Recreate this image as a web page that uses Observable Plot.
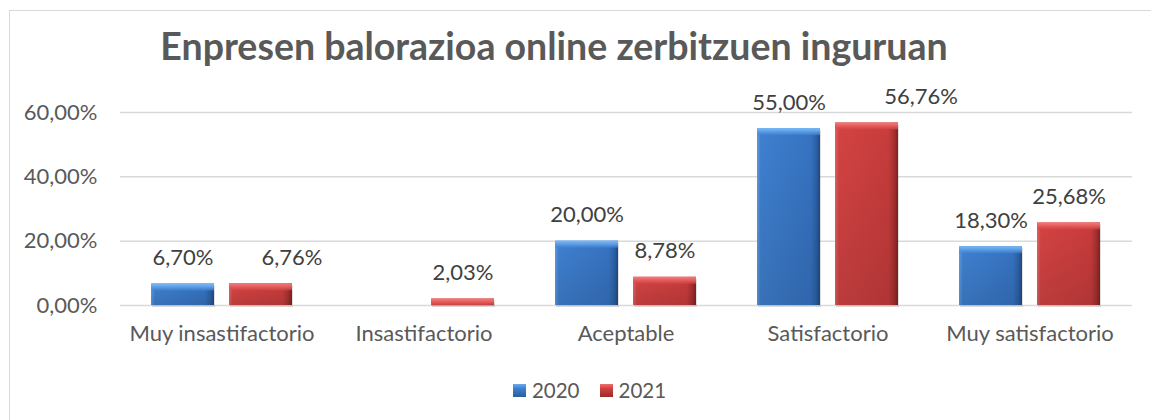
<!DOCTYPE html>
<html>
<head>
<meta charset="utf-8">
<script src="https://cdn.jsdelivr.net/npm/d3@7"></script>
<script src="https://cdn.jsdelivr.net/npm/@observablehq/plot@0.6"></script>
<style>
  body { margin: 0; background: #fff; font-family: Lato, "Open Sans", sans-serif; }
  #wrap { position: relative; width: 1151px; height: 420px; overflow: hidden; }
  #frame { position: absolute; left: 9px; top: 10px; width: 1300px; height: 600px; border: 1px solid #d9d9d9; box-sizing: border-box; pointer-events: none; }
  #title { height: 70px; width: 1108px; text-align: center; font-weight: 700; font-size: 37.5px; color: #595959; padding-top: 26px; box-sizing: border-box; line-height: 40px; white-space: nowrap; }
  #chart svg { display: block; }
  #legend { height: 60px; display: flex; justify-content: center; align-items: center; box-sizing: border-box; margin-left: 28px; font-size: 20.5px; color: #595959; }
  .item { display: flex; align-items: center; margin: 0 10px; }
  .sw { width: 13px; height: 13px; margin-right: 6px; }
</style>
</head>
<body>
<div id="wrap">
  <div id="frame"></div>
  <div id="title">Enpresen balorazioa online zerbitzuen inguruan</div>
  <div id="chart"></div>
  <div id="legend"></div>
</div>
<script>
const categories = ["Muy insastifactorio", "Insastifactorio", "Aceptable", "Satisfactorio", "Muy satisfactorio"];
const years = ["2020", "2021"];
const values2020 = [6.70, 0, 20.00, 55.00, 18.30];
const values2021 = [6.76, 2.03, 8.78, 56.76, 25.68];
const yTicks = [0, 20, 40, 60];

const d2020 = categories.map((c, i) => ({category: c, year: "2020", value: values2020[i]}));
const d2021 = categories.map((c, i) => ({category: c, year: "2021", value: values2021[i]}));

const fmt = v => v.toFixed(2).replace(".", ",") + "%";
const FONT = "Lato, 'Open Sans', sans-serif";

const shift = 39, inset = 78;

function barMarks(data, key, side) {
  const o = side === "left" ? {insetRight: inset} : {insetLeft: inset};
  const shown = data.filter(d => d.value > 0);
  return [
    Plot.barY(shown, {x: "category", y: "value", fill: "#000", fillOpacity: 0.12, dx: 1, dy: 2, ...o}),
    Plot.barY(shown, {x: "category", y: "value", fill: `url(#${key}Body)`, ...o}),
    Plot.barY(shown, {x: "category", y: "value", fill: "url(#shade)", ...o}),
    Plot.barY(shown, {x: "category", y1: "value", y2: "value", insetBottom: -7, fill: `url(#${key}Top)`, ...o})
  ];
}

const labelStyle = {fill: "#404040", fontSize: 22, dy: -26};

const chart = Plot.plot({
  width: 1151,
  height: 290,
  marginTop: 42,
  marginBottom: 55,
  marginLeft: 120,
  marginRight: 19,
  style: {fontFamily: FONT, fontSize: "22px", color: "#595959", background: "transparent", overflow: "visible"},
  x: {domain: categories, paddingInner: 0.3, paddingOuter: 0.15, label: null, tickSize: 0, tickPadding: 20},
  y: {domain: [0, 60], ticks: yTicks, tickFormat: fmt, label: null, tickSize: 0, tickPadding: 23},
  marks: [
    Plot.ruleY(yTicks, {stroke: "#d9d9d9", strokeWidth: 1.5}),
    ...barMarks(d2020, "blue", "left"),
    ...barMarks(d2021, "red", "right"),
    Plot.text(d2020.filter(d => d.value > 0), {x: "category", y: "value", text: d => fmt(d.value), dx: -shift, ...labelStyle}),
    Plot.text(d2021.filter(d => d.value > 0 && d.category !== "Muy insastifactorio" && d.category !== "Satisfactorio"), {x: "category", y: "value", text: d => fmt(d.value), dx: shift, ...labelStyle}),
    Plot.text(d2021.filter(d => d.category === "Muy insastifactorio"), {x: "category", y: "value", text: d => fmt(d.value), dx: shift + 31, ...labelStyle}),
    Plot.text(d2021.filter(d => d.category === "Satisfactorio"), {x: "category", y: "value", text: d => fmt(d.value), dx: shift + 54, ...labelStyle})
  ]
});

const svg = d3.select(chart);
const defs = svg.insert("defs", ":first-child");
function grad(id, vertical, stops) {
  const g = defs.append("linearGradient").attr("id", id).attr("x1", 0).attr("y1", 0)
    .attr("x2", vertical ? 0 : 1).attr("y2", vertical ? 1 : 0);
  stops.forEach(([o, c, a]) => g.append("stop").attr("offset", o).attr("stop-color", c).attr("stop-opacity", a ?? 1));
}
grad("blueBody", false, [[0, "#5f9de2"], [0.06, "#3f80d0"], [0.85, "#3673c2"], [0.94, "#2d62a8"], [1, "#1f4a82"]]);
grad("redBody", false, [[0, "#e46464"], [0.06, "#d44343"], [0.85, "#c83c3c"], [0.94, "#a83030"], [1, "#7e2222"]]);
grad("blueTop", true, [[0, "#7cbaf5"], [0.5, "#5b9de6"], [1, "#4286d4", 0.6]]);
grad("redTop", true, [[0, "#f27c7c"], [0.5, "#e45c5c"], [1, "#d64646", 0.6]]);
grad("shade", true, [[0, "#000", 0], [1, "#000", 0.12]]);

document.getElementById("chart").appendChild(chart);

const legend = d3.select("#legend");
const sw = {"2020": "linear-gradient(180deg,#6aaaf0 0%,#3f7fcf 35%,#2a5e9e 100%)", "2021": "linear-gradient(180deg,#ee7070 0%,#d04040 35%,#9a2a2a 100%)"};
years.forEach(y => {
  const it = legend.append("div").attr("class", "item");
  it.append("div").attr("class", "sw").style("background", sw[y]);
  it.append("span").text(y);
});
</script>
</body>
</html>
